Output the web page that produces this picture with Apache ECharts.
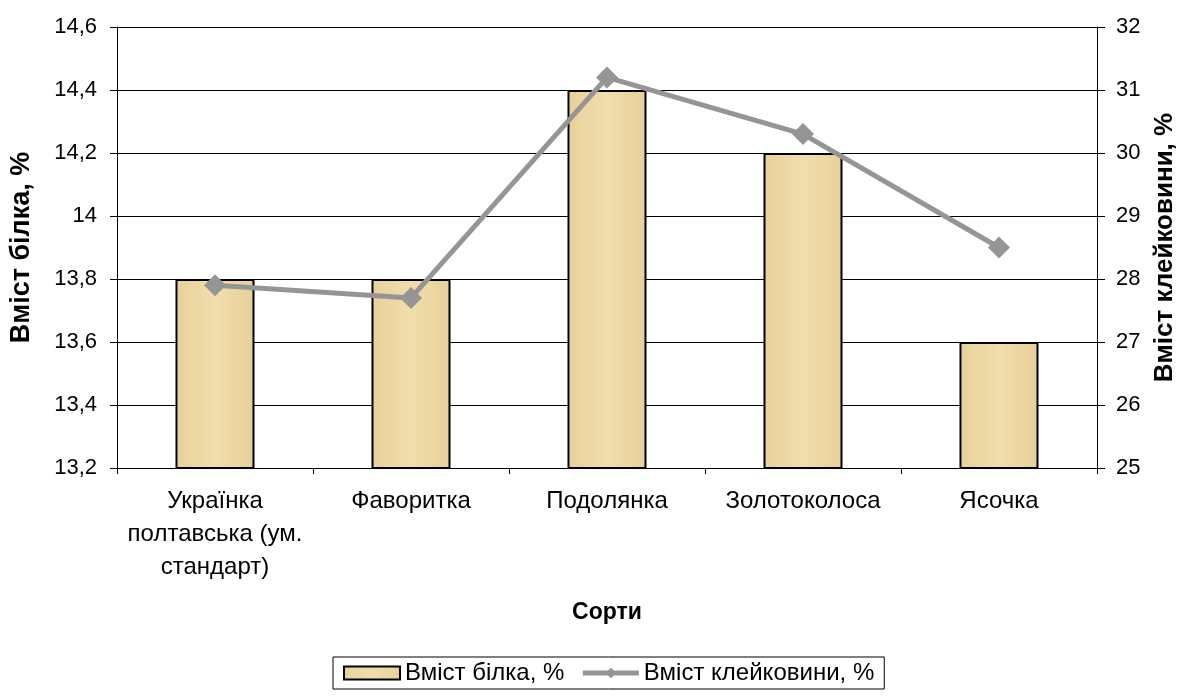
<!DOCTYPE html>
<html><head><meta charset="utf-8">
<script src="https://cdn.jsdelivr.net/npm/echarts@6/dist/echarts.min.js"></script>
<style>html,body{margin:0;padding:0;background:#fff}#c{width:1177px;height:697px}</style>
</head><body><div id="c"></div>
<script>
const categories = ['Українка\nполтавська (ум.\nстандарт)', 'Фаворитка', 'Подолянка', 'Золотоколоса', 'Ясочка'];
const protein = [13.8, 13.8, 14.4, 14.2, 13.6];
const gluten = [27.9, 27.7, 31.2, 30.3, 28.5];
const seriesNames = ['Вміст білка, %', 'Вміст клейковини, %'];

const font = 'Liberation Sans, Arial, sans-serif';
const fmt = v => String(Math.round(v * 10) / 10).replace('.', ',');
const chart = echarts.init(document.getElementById('c'));
const barFill = new echarts.graphic.LinearGradient(0, 0, 1, 0, [
  {offset: 0, color: '#E8D19A'}, {offset: 0.5, color: '#F1DDAD'}, {offset: 1, color: '#E7D098'}
]);
chart.setOption({
  animation: false,
  textStyle: {fontFamily: font},
  grid: {left: 117, right: 80, top: 27, bottom: 229, containLabel: false, outerBoundsMode: 'none'},
  legend: {
    bottom: 8, left: 333, borderColor: '#000', borderWidth: 1, padding: [4, 10],
    itemGap: 16, itemWidth: 56, itemHeight: 13,
    textStyle: {fontSize: 24, color: '#000', fontFamily: font},
    data: [
      {name: seriesNames[0], icon: 'rect'},
      {name: seriesNames[1], lineStyle: {width: 5, color: '#959595'}}
    ]
  },
  xAxis: {
    type: 'category', data: categories,
    name: 'Сорти', nameLocation: 'middle', nameGap: 133,
    nameTextStyle: {fontSize: 23, fontWeight: 'bold', color: '#000'},
    axisLine: {lineStyle: {color: '#000'}},
    axisTick: {show: true, length: 6, lineStyle: {color: '#000'}},
    axisLabel: {fontSize: 24, color: '#000', lineHeight: 33, margin: 17, interval: 0}
  },
  yAxis: [{
    type: 'value', min: 13.2, max: 14.6, interval: 0.2,
    name: 'Вміст білка, %', nameLocation: 'middle', nameGap: 82, nameRotate: 90,
    nameTextStyle: {fontSize: 27, fontWeight: 'bold', color: '#000'},
    axisLine: {show: true, lineStyle: {color: '#000'}},
    axisTick: {show: true, length: 7, lineStyle: {color: '#000'}},
    axisLabel: {fontSize: 22, color: '#000', formatter: fmt, margin: 20},
    splitLine: {lineStyle: {color: '#000', width: 1}}
  }, {
    type: 'value', min: 25, max: 32, interval: 1, position: 'right',
    name: 'Вміст клейковини, %', nameLocation: 'middle', nameGap: 53, nameRotate: 90,
    nameTextStyle: {fontSize: 26, fontWeight: 'bold', color: '#000'},
    axisLine: {show: true, lineStyle: {color: '#000'}},
    axisTick: {show: true, length: 8, lineStyle: {color: '#000'}},
    axisLabel: {fontSize: 22, color: '#000', margin: 19},
    splitLine: {show: false}
  }],
  series: [{
    name: seriesNames[0], type: 'bar', data: protein, yAxisIndex: 0, barWidth: 79,
    itemStyle: {color: barFill, borderColor: '#000', borderWidth: 2}
  }, {
    name: seriesNames[1], type: 'line', data: gluten, yAxisIndex: 1,
    symbol: 'diamond', symbolSize: 22,
    lineStyle: {color: '#959595', width: 5},
    itemStyle: {color: '#959595'}
  }]
});
</script></body></html>
